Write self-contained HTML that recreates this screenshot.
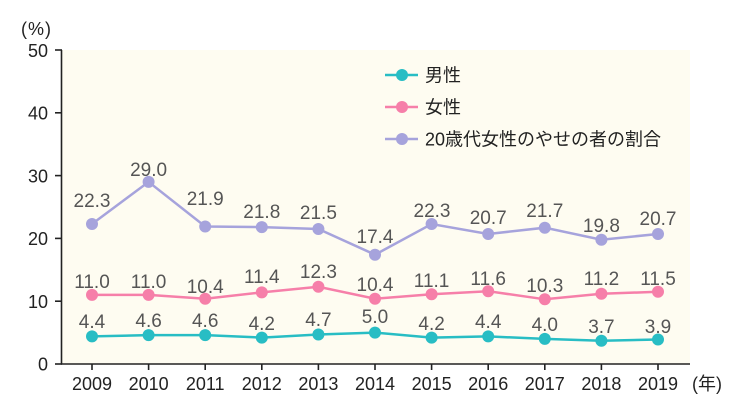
<!DOCTYPE html>
<html><head><meta charset="utf-8"><style>
html,body{margin:0;padding:0;background:#fff;}
svg{display:block;}
text{font-family:"Liberation Sans","Noto Sans CJK JP",sans-serif;}
</style></head><body>
<svg width="750" height="419" viewBox="0 0 750 419" xmlns="http://www.w3.org/2000/svg">
<rect x="62" y="50" width="628" height="314" fill="#fefcf1"/>
<g stroke="#222" stroke-width="1.6" fill="none">
<line x1="61.5" y1="50" x2="61.5" y2="364.5"/>
<line x1="61" y1="364" x2="690" y2="364"/>
<line x1="55" y1="50" x2="62" y2="50"/>
<line x1="55" y1="112.8" x2="62" y2="112.8"/>
<line x1="55" y1="175.6" x2="62" y2="175.6"/>
<line x1="55" y1="238.4" x2="62" y2="238.4"/>
<line x1="55" y1="301.2" x2="62" y2="301.2"/>
<line x1="55" y1="364" x2="62" y2="364"/>
<line x1="92" y1="364" x2="92" y2="370"/>
<line x1="148.6" y1="364" x2="148.6" y2="370"/>
<line x1="205.2" y1="364" x2="205.2" y2="370"/>
<line x1="261.8" y1="364" x2="261.8" y2="370"/>
<line x1="318.4" y1="364" x2="318.4" y2="370"/>
<line x1="375" y1="364" x2="375" y2="370"/>
<line x1="431.6" y1="364" x2="431.6" y2="370"/>
<line x1="488.2" y1="364" x2="488.2" y2="370"/>
<line x1="544.8" y1="364" x2="544.8" y2="370"/>
<line x1="601.4" y1="364" x2="601.4" y2="370"/>
<line x1="658" y1="364" x2="658" y2="370"/>
</g>
<g font-size="18" fill="#222" text-anchor="end">
<text x="48" y="57">50</text>
<text x="48" y="119.5">40</text>
<text x="48" y="182.5">30</text>
<text x="48" y="245">20</text>
<text x="48" y="308">10</text>
<text x="48" y="370.5">0</text>
</g>
<text x="21" y="35" font-size="18" fill="#222" letter-spacing="1">(%)</text>
<g font-size="18" fill="#222" text-anchor="middle">
<text x="92" y="390">2009</text>
<text x="148.6" y="390">2010</text>
<text x="205.2" y="390">2011</text>
<text x="261.8" y="390">2012</text>
<text x="318.4" y="390">2013</text>
<text x="375" y="390">2014</text>
<text x="431.6" y="390">2015</text>
<text x="488.2" y="390">2016</text>
<text x="544.8" y="390">2017</text>
<text x="601.4" y="390">2018</text>
<text x="658" y="390">2019</text>
</g>
<text x="692" y="390" font-size="18" fill="#222">(年)</text>

<!-- 20s women -->
<polyline fill="none" stroke="#a6a3dc" stroke-width="2.5" points="92,224 148.6,181.9 205.2,226.5 261.8,227.1 318.4,229 375,254.7 431.6,224 488.2,234 544.8,227.7 601.4,239.7 658,234"/>
<g fill="#a6a3dc">
<circle cx="92" cy="224" r="6"/><circle cx="148.6" cy="181.9" r="6"/><circle cx="205.2" cy="226.5" r="6"/><circle cx="261.8" cy="227.1" r="6"/><circle cx="318.4" cy="229" r="6"/><circle cx="375" cy="254.7" r="6"/><circle cx="431.6" cy="224" r="6"/><circle cx="488.2" cy="234" r="6"/><circle cx="544.8" cy="227.7" r="6"/><circle cx="601.4" cy="239.7" r="6"/><circle cx="658" cy="234" r="6"/>
</g>
<!-- women -->
<polyline fill="none" stroke="#f67fa9" stroke-width="2.5" points="92,294.9 148.6,294.9 205.2,298.7 261.8,292.4 318.4,286.8 375,298.7 431.6,294.3 488.2,291.2 544.8,299.3 601.4,293.7 658,291.8"/>
<g fill="#f67fa9">
<circle cx="92" cy="294.9" r="6"/><circle cx="148.6" cy="294.9" r="6"/><circle cx="205.2" cy="298.7" r="6"/><circle cx="261.8" cy="292.4" r="6"/><circle cx="318.4" cy="286.8" r="6"/><circle cx="375" cy="298.7" r="6"/><circle cx="431.6" cy="294.3" r="6"/><circle cx="488.2" cy="291.2" r="6"/><circle cx="544.8" cy="299.3" r="6"/><circle cx="601.4" cy="293.7" r="6"/><circle cx="658" cy="291.8" r="6"/>
</g>
<!-- men -->
<polyline fill="none" stroke="#28bdc4" stroke-width="2.5" points="92,336.4 148.6,335.1 205.2,335.1 261.8,337.6 318.4,334.5 375,332.6 431.6,337.6 488.2,336.4 544.8,338.9 601.4,340.8 658,339.5"/>
<g fill="#28bdc4">
<circle cx="92" cy="336.4" r="6"/><circle cx="148.6" cy="335.1" r="6"/><circle cx="205.2" cy="335.1" r="6"/><circle cx="261.8" cy="337.6" r="6"/><circle cx="318.4" cy="334.5" r="6"/><circle cx="375" cy="332.6" r="6"/><circle cx="431.6" cy="337.6" r="6"/><circle cx="488.2" cy="336.4" r="6"/><circle cx="544.8" cy="338.9" r="6"/><circle cx="601.4" cy="340.8" r="6"/><circle cx="658" cy="339.5" r="6"/>
</g>

<g font-size="19" fill="#555" text-anchor="middle">
<text x="92" y="207">22.3</text>
<text x="148.6" y="176">29.0</text>
<text x="205.2" y="205">21.9</text>
<text x="261.8" y="218">21.8</text>
<text x="318.4" y="219">21.5</text>
<text x="375" y="243">17.4</text>
<text x="432" y="217">22.3</text>
<text x="488.2" y="224">20.7</text>
<text x="544.8" y="217">21.7</text>
<text x="601.4" y="232">19.8</text>
<text x="658" y="225">20.7</text>

<text x="92" y="288">11.0</text>
<text x="148.6" y="288">11.0</text>
<text x="205.2" y="293">10.4</text>
<text x="261.8" y="283">11.4</text>
<text x="318.4" y="278">12.3</text>
<text x="375" y="291">10.4</text>
<text x="431.6" y="287">11.1</text>
<text x="488.2" y="285">11.6</text>
<text x="544.8" y="292">10.3</text>
<text x="601.4" y="285">11.2</text>
<text x="658" y="285">11.5</text>

<text x="92" y="328">4.4</text>
<text x="148.6" y="327">4.6</text>
<text x="205.2" y="327">4.6</text>
<text x="261.8" y="330">4.2</text>
<text x="318.4" y="326">4.7</text>
<text x="375" y="323">5.0</text>
<text x="431.6" y="330">4.2</text>
<text x="488.2" y="328">4.4</text>
<text x="544.8" y="331">4.0</text>
<text x="601.4" y="333">3.7</text>
<text x="658" y="333">3.9</text>
</g>

<!-- legend -->
<g stroke-width="2.5">
<line x1="385" y1="75" x2="418" y2="75" stroke="#28bdc4"/>
<line x1="385" y1="107" x2="418" y2="107" stroke="#f67fa9"/>
<line x1="385" y1="139" x2="418" y2="139" stroke="#a6a3dc"/>
</g>
<circle cx="402" cy="75" r="6" fill="#28bdc4"/>
<circle cx="402" cy="107" r="6" fill="#f67fa9"/>
<circle cx="402" cy="139" r="6" fill="#a6a3dc"/>
<g font-size="18" fill="#222">
<text x="425" y="81.5">男性</text>
<text x="425" y="113.5">女性</text>
<text x="425" y="145.5">20歳代女性のやせの者の割合</text>
</g>
</svg>
</body></html>
